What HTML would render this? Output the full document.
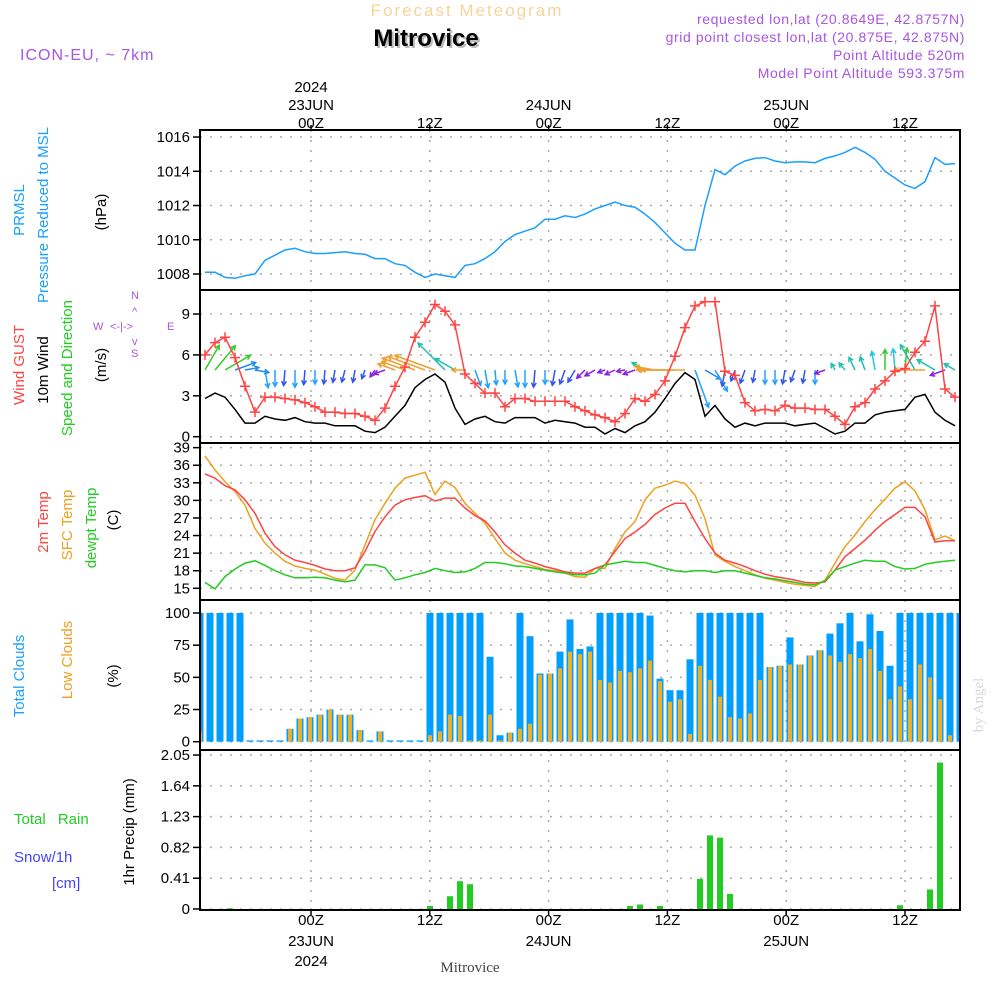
<!DOCTYPE html>
<html><head><meta charset="utf-8"><style>
body{margin:0;background:#fff;width:1000px;height:1000px;overflow:hidden;font-family:"Liberation Sans",sans-serif}
svg{position:absolute;left:0;top:0}
</style></head><body>
<svg id="c" width="1000" height="1000" xmlns="http://www.w3.org/2000/svg"><defs><clipPath id="plotclip"><rect x="200" y="130" width="760" height="780"/></clipPath></defs></svg>
<script>
const pressure=[1008.1,1008.1,1007.8,1007.75,1007.9,1008.0,1008.8,1009.1,1009.4,1009.5,1009.3,1009.2,1009.2,1009.25,1009.3,1009.2,1009.15,1008.9,1008.9,1008.6,1008.5,1008.1,1007.8,1008.0,1007.9,1007.8,1008.5,1008.6,1008.9,1009.3,1009.9,1010.3,1010.5,1010.7,1011.2,1011.2,1011.4,1011.3,1011.5,1011.8,1012.0,1012.2,1012.0,1011.9,1011.5,1011.0,1010.4,1009.8,1009.4,1009.4,1012.0,1014.1,1013.8,1014.3,1014.6,1014.75,1014.8,1014.6,1014.5,1014.55,1014.55,1014.5,1014.75,1014.9,1015.1,1015.4,1015.1,1014.7,1014.0,1013.6,1013.2,1013.0,1013.4,1014.8,1014.4,1014.45];
const gust=[6.0,6.9,7.3,5.8,3.7,1.8,2.9,2.9,2.8,2.7,2.5,2.2,1.8,1.8,1.7,1.7,1.5,1.2,2.1,3.7,5.1,7.3,8.4,9.7,9.2,8.2,4.6,3.9,3.2,3.2,2.2,2.8,2.8,2.6,2.6,2.6,2.6,2.2,1.9,1.6,1.4,1.1,1.7,2.8,2.6,3.1,4.1,5.9,8.0,9.6,9.9,9.9,4.8,4.5,2.5,1.9,2.0,1.9,2.3,2.1,2.1,2.0,2.0,1.5,0.9,2.2,2.5,3.5,4.1,4.8,5.0,6.2,7.0,9.6,3.5,2.9];
const wind=[2.8,3.2,2.9,2.0,1.0,1.0,1.5,1.3,1.2,1.4,1.1,1.0,1.0,0.8,0.8,0.8,0.4,0.3,0.7,1.5,2.3,3.6,4.2,4.6,4.0,2.1,0.9,1.3,1.5,1.1,1.0,1.4,1.4,1.4,1.0,1.2,1.1,1.0,0.7,0.7,0.2,0.6,0.3,0.8,1.1,1.8,2.8,3.9,4.7,4.2,1.5,2.3,1.3,0.7,1.0,0.8,1.0,1.0,1.0,0.8,0.9,1.0,0.6,0.2,0.4,1.0,1.0,1.6,1.8,1.9,2.0,2.9,3.1,1.8,1.2,0.8];
const windDir=[30,40,60,70,80,100,170,180,185,180,185,180,185,190,195,190,200,215,250,290,290,290,290,290,315,300,270,160,170,175,180,170,180,185,180,190,200,210,225,240,250,245,260,250,300,280,270,270,270,160,120,150,190,200,200,190,180,180,190,200,190,180,250,330,320,335,340,350,0,355,5,330,270,300,250,300];
const temp2m=[34.5,33.8,32.5,31.8,30.1,27.8,24.4,22.1,20.7,19.8,19.4,18.9,18.3,18.0,18.0,18.5,21.3,24.7,27.2,29.2,30.1,30.5,30.8,29.9,30.4,30.4,28.7,27.4,26.5,24.6,22.4,21.0,19.8,19.3,18.7,18.3,17.8,17.6,17.6,18.4,19.0,21.3,23.5,24.6,25.9,27.6,28.7,29.5,29.5,26.4,23.5,21.0,19.8,19.3,18.7,18.0,17.4,17.0,16.7,16.4,16.0,15.9,16.1,18.1,20.4,21.8,23.2,24.9,26.4,27.6,28.8,28.8,27.2,22.9,23.1,23.1];
const tempSfc=[37.6,35.2,33.2,31.5,29.2,25.2,22.7,21.0,19.6,18.8,18.4,18.1,17.4,16.7,16.4,18.1,22.4,26.7,29.5,32.1,33.8,34.3,34.8,31.0,33.3,32.2,29.5,27.8,26.1,23.5,21.0,19.8,19.2,18.7,18.2,18.0,17.6,17.0,16.9,18.4,18.4,21.8,24.6,26.4,30.1,32.1,32.6,33.3,32.9,30.9,26.9,20.7,19.6,18.7,18.0,17.3,16.7,16.4,16.0,15.7,15.5,15.3,16.4,19.3,22.1,24.1,26.4,28.4,30.2,32.1,33.2,31.6,28.4,23.3,23.9,23.1];
const dewpt=[16.0,14.9,17.0,18.3,19.3,19.7,18.9,18.0,17.3,16.8,16.8,16.9,16.8,16.4,16.1,16.4,19.0,19.0,18.5,16.4,16.8,17.3,17.7,18.4,18.0,17.7,17.8,18.4,19.4,19.4,19.2,18.8,18.7,18.4,18.1,17.8,17.6,17.3,17.3,17.6,19.0,19.3,19.6,19.4,19.4,18.9,18.4,18.0,17.8,18.0,18.0,17.7,18.0,18.0,17.6,17.2,16.8,16.6,16.3,16.0,15.7,15.6,16.3,18.1,18.7,19.3,19.8,19.6,19.6,18.7,18.3,18.4,19.1,19.4,19.6,19.8];
const totalClouds=[100,100,100,100,100,1,1,1,1,10,18,19,21,25,21,21,9,1,8,1,1,1,1,100,100,100,100,100,100,66,5,7,100,82,53,53,70,95,72,74,100,100,100,100,100,98,49,40,40,64,100,100,100,100,100,100,100,58,59,81,60,67,71,84,92,100,78,99,86,59,100,100,100,100,100,100,100];
const lowClouds=[8,0,0,0,0,0,0,0,0,10,18,19,21,25,21,21,9,0,8,0,0,0,0,5,8,21,20,1,1,21,1,7,10,14,52,53,57,70,68,70,48,46,55,54,57,63,47,31,33,6,59,48,35,19,18,22,48,58,59,60,60,67,71,67,62,68,65,72,55,33,43,33,60,50,33,5,0];
const precipIdx=[3,23,25,26,27,43,44,46,50,51,52,53,70,73,74];
const precipVal=[0.01,0.04,0.17,0.37,0.33,0.04,0.06,0.04,0.40,0.98,0.95,0.20,0.05,0.26,1.95];
const tickHours=[0,12,24,36,48,60];
const tickTop=["00Z","12Z","00Z","12Z","00Z","12Z"];
const dayLabels=["23JUN","","24JUN","","25JUN",""];
const pTicks=[1008,1010,1012,1014,1016];
const wTicks=[0,3,6,9];
const tTicks=[15,18,21,24,27,30,33,36,39];
const cTicks=[0,25,50,75,100];
const rTicks=[0,0.41,0.82,1.23,1.64,2.05];

const NS="http://www.w3.org/2000/svg";
const svg=document.getElementById('c');
function el(tag,attrs,parent){const e=document.createElementNS(NS,tag);for(const k in attrs)e.setAttribute(k,attrs[k]);(parent||svg).appendChild(e);return e;}
function txt(s,x,y,attrs,parent){const e=el('text',Object.assign({x:x,y:y,'font-family':'Liberation Sans, sans-serif','font-size':15},attrs),parent);e.textContent=s;return e;}

const X0=200,X1=960;
const xH=h=>311+9.9*h;
const xS=k=>205+10*k;
const xB=i=>200+10*i;
const yP=v=>274-(v-1008)*17.12;
const yW=v=>436.7-v*13.63;
const yT=v=>588.3-(v-15)*5.86;
const yC=v=>741.7-v*1.287;
const yR=v=>909-v*75.1;

const panels=[[130,290],[290,443],[443,600],[600,750],[750,910]];
const grid=el('g',{});


function hgrid(vals,f){vals.forEach(v=>{const y=f(v);el('line',{x1:X0,x2:X1,y1:y,y2:y,stroke:'#aaa','stroke-width':1.5,'stroke-dasharray':'2,8'},grid);});}
hgrid(pTicks,yP);hgrid(wTicks,yW);hgrid(tTicks,yT);hgrid(cTicks,yC);hgrid(rTicks,yR);
tickHours.forEach(h=>{el('line',{x1:xH(h),x2:xH(h),y1:130,y2:910,stroke:'#aaa','stroke-width':1.5,'stroke-dasharray':'2,8'},grid);});

function yticks(vals,f,name,fmt){const g=el('g',{});
 vals.forEach(v=>{const y=f(v);txt(fmt?fmt(v):String(v),190,y+5,{'text-anchor':'end'},g);el('line',{x1:193,x2:200,y1:y,y2:y,stroke:'#000','stroke-width':1.5},g);});}
yticks(pTicks,yP,'pressure-y-ticks');yticks(wTicks,yW,'wind-y-ticks');yticks(tTicks,yT,'temp-y-ticks');yticks(cTicks,yC,'cloud-y-ticks');
yticks(rTicks,yR,'precip-y-ticks',v=>v===0?'0':v.toFixed(2));

function line(vals,f,color,name,w){const pts=vals.map((v,k)=>xS(k)+','+f(v).toFixed(1)).join(' ');const p=el('polyline',{points:pts,fill:'none',stroke:color,'stroke-width':w||1.5});return p;}
line(pressure,yP,'#1a9fff','pressure-line');

const arrows=el('g',{});


function dirColor(d){d=(d+360)%360;if(d<70)return '#33cc22';if(d<130)return '#2288ee';if(d<185)return '#22a0ff';if(d<215)return '#3355ee';if(d<262)return '#8822dd';if(d<300)return '#f0a030';if(d<345)return '#20c0b0';return '#20c8d8';}
windDir.forEach((d,k)=>{const L=6+8*wind[k];const r=d*Math.PI/180;const x1=xS(k),y1=370;const x2=x1+L*Math.sin(r),y2=y1-L*Math.cos(r);const c=dirColor(d);
 const g=el('g',{},arrows);
 el('line',{x1:x1,y1:y1,x2:x2,y2:y2,stroke:c,'stroke-width':1.5},g);
 const a1=r+Math.PI-0.5,a2=r+Math.PI+0.5;
 el('polyline',{points:`${x2+5*Math.sin(a1)},${y2-5*Math.cos(a1)} ${x2},${y2} ${x2+5*Math.sin(a2)},${y2-5*Math.cos(a2)}`,fill:'none',stroke:c,'stroke-width':1.5},g);});
line(wind,yW,'#000','mean-wind-line');
line(gust,yW,'#ff4444','wind-gust-line');
const gm=el('g',{});
gust.forEach((v,k)=>{const x=xS(k),y=yW(v);el('path',{d:`M${x-5},${y}H${x+5}M${x},${y-5}V${y+5}`,stroke:'#ff4444','stroke-width':1.5},gm);});

line(tempSfc,yT,'#eea020','sfc-temp-line');
line(temp2m,yT,'#ff4444','temp-2m-line');
line(dewpt,yT,'#22cc22','dewpoint-line');

const cg=el('g',{'clip-path':'url(#plotclip)'});
totalClouds.forEach((v,i)=>{const x=xB(i);if(v>0){const b=el('rect',{x:x-3.5,y:yC(v),width:7,height:yC(0)-yC(v),fill:'#009fff'},cg);}
 const lv=lowClouds[i];if(lv>0){const b=el('rect',{x:x-2,y:yC(lv),width:4,height:yC(0)-yC(lv),fill:'#e8b030'},cg);}});

const pg=el('g',{});
precipIdx.forEach((i,j)=>{const x=xB(i);const b=el('rect',{x:x-3,y:yR(precipVal[j]),width:6,height:yR(0)-yR(precipVal[j]),fill:'#22cc22'},pg);});

panels.forEach(p=>{const r=el('rect',{x:X0,y:p[0],width:X1-X0,height:p[1]-p[0],fill:'none',stroke:'#000','stroke-width':2});});

const tl=el('g',{});
tickHours.forEach((h,i)=>{const x=xH(h);txt(tickTop[i],x,128,{'text-anchor':'middle'},tl);txt(tickTop[i],x,925,{'text-anchor':'middle'},tl);
 if(dayLabels[i]){txt(dayLabels[i],x,110,{'text-anchor':'middle'},tl);txt(dayLabels[i],x,946,{'text-anchor':'middle'},tl);}
 el('line',{x1:x,x2:x,y1:130,y2:125,stroke:'#000','stroke-width':1.5},tl);el('line',{x1:x,x2:x,y1:910,y2:915,stroke:'#000','stroke-width':1.5},tl);});
txt('2024',xH(0),92,{'text-anchor':'middle'},tl);txt('2024',xH(0),966,{'text-anchor':'middle'},tl);
</script>
<svg width="1000" height="1000" xmlns="http://www.w3.org/2000/svg" style="position:absolute;left:0;top:0" font-family="Liberation Sans, sans-serif" font-size="15">
<text x="467" y="16" text-anchor="middle" fill="#f6d59a" font-size="17" letter-spacing="2">Forecast Meteogram</text>
<text x="428" y="48" text-anchor="middle" fill="#bbb" font-size="24" font-weight="bold">Mitrovice</text>
<text x="426" y="46" text-anchor="middle" fill="#000" font-size="24" font-weight="bold">Mitrovice</text>
<text x="20" y="60" fill="#a855e0" font-size="16" letter-spacing="1">ICON-EU, ~ 7km</text>
<g fill="#a855e0" font-size="14" text-anchor="end" letter-spacing="0.6">
<text x="965" y="24">requested lon,lat (20.8649E, 42.8757N)</text>
<text x="965" y="42">grid point closest lon,lat (20.875E, 42.875N)</text>
<text x="965" y="60">Point Altitude 520m</text>
<text x="965" y="78">Model Point Altitude 593.375m</text>
</g>
<g>
<text transform="translate(24,210) rotate(-90)" text-anchor="middle" fill="#1a9fff">PRMSL</text>
<text transform="translate(48,215) rotate(-90)" text-anchor="middle" fill="#1a9fff">Pressure Reduced to MSL</text>
<text transform="translate(106,212) rotate(-90)" text-anchor="middle" fill="#000">(hPa)</text>
</g>
<g>
<text transform="translate(24,365) rotate(-90)" text-anchor="middle" fill="#ff4444">Wind GUST</text>
<text transform="translate(48,370) rotate(-90)" text-anchor="middle" fill="#000">10m Wind</text>
<text transform="translate(72,368) rotate(-90)" text-anchor="middle" fill="#22cc22">Speed and Direction</text>
<text transform="translate(106,365) rotate(-90)" text-anchor="middle" fill="#000">(m/s)</text>
</g>
<g fill="#a855e0" font-size="11">
<text x="131" y="299">N</text><text x="131" y="357">S</text><text x="93" y="330">W</text><text x="167" y="330">E</text>
<text x="110" y="330">&lt;-|-&gt;</text><text x="132" y="315">^</text><text x="132" y="345">v</text>
</g>
<g>
<text transform="translate(48,522) rotate(-90)" text-anchor="middle" fill="#ff4444">2m Temp</text>
<text transform="translate(72,525) rotate(-90)" text-anchor="middle" fill="#eea020">SFC Temp</text>
<text transform="translate(96,528) rotate(-90)" text-anchor="middle" fill="#22cc22">dewpt Temp</text>
<text transform="translate(118,520) rotate(-90)" text-anchor="middle" fill="#000">(C)</text>
</g>
<g>
<text transform="translate(24,676) rotate(-90)" text-anchor="middle" fill="#1a9fff">Total Clouds</text>
<text transform="translate(72,660) rotate(-90)" text-anchor="middle" fill="#eea020">Low Clouds</text>
<text transform="translate(118,676) rotate(-90)" text-anchor="middle" fill="#000">(%)</text>
</g>
<g>
<text x="14" y="824" fill="#22cc22" word-spacing="8">Total Rain</text>
<text x="14" y="862" fill="#4444ff">Snow/1h</text>
<text x="52" y="888" fill="#4444ff">[cm]</text>
<text transform="translate(134,832) rotate(-90)" text-anchor="middle" fill="#000">1hr Precip (mm)</text>
</g>
<text x="470" y="972" text-anchor="middle" font-family="Liberation Serif, serif" fill="#444" font-size="15">Mitrovice</text>
<text transform="translate(983,705) rotate(-90)" text-anchor="middle" font-family="Liberation Serif, serif" fill="#d8d8d8" font-size="15">by Angel</text>
</svg>
</body></html>
